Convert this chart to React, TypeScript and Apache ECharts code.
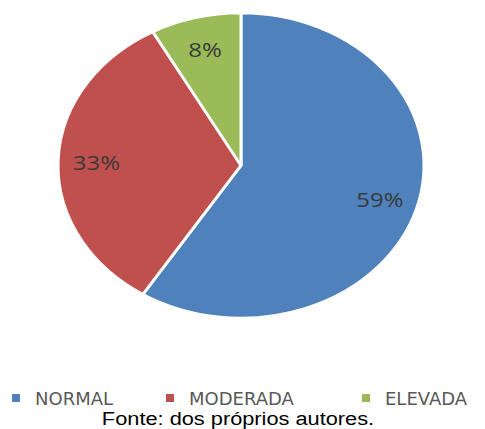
import React, { useEffect, useRef } from "react";
import * as echarts from "echarts";

const categories = ["NORMAL", "MODERADA", "ELEVADA"];
const values = [59, 33, 8];
const colors = ["#4F81BD", "#C0504D", "#9BBB59"];
const sourceNote = "Fonte: dos próprios autores.";

export default function App() {
  const ref = useRef<HTMLDivElement>(null);

  useEffect(() => {
    if (!ref.current) return;
    const chart = echarts.init(ref.current, null, { renderer: "svg" });
    const total = values.reduce((a, b) => a + b, 0);
    const cx = 241;
    const cy = 165.5;
    const ry = 152.5;
    const sx = 183 / 152.5;
    const legendLefts = [12, 166, 362];

    const series = categories.map((name, i) => ({
      type: "custom",
      name,
      coordinateSystem: "none",
      itemStyle: { color: colors[i] },
      data: [values[i]],
      renderItem: (_params: any, api: any) => {
        const v = api.value(0) as number;
        const before = values.slice(0, i).reduce((a, b) => a + b, 0);
        const start = -Math.PI / 2 + (before / total) * 2 * Math.PI;
        const end = start + (v / total) * 2 * Math.PI;
        const mid = (start + end) / 2;
        const lr = ry * 0.79;
        return {
          type: "group",
          x: cx,
          y: cy,
          scaleX: sx,
          children: [
            {
              type: "sector",
              shape: { cx: 0, cy: 0, r: ry, r0: 0, startAngle: start, endAngle: end, clockwise: true },
              style: { fill: colors[i], stroke: "#ffffff", lineWidth: 2.5 },
            },
            {
              type: "text",
              x: Math.cos(mid) * lr,
              y: Math.sin(mid) * lr,
              style: {
                text: Math.round((v / total) * 100) + "%",
                fill: "#3a3a3a",
                fontSize: 20,
                fontFamily: "Open Sans",
                align: "center",
                verticalAlign: "middle",
              },
            },
          ],
        };
      },
    }));

    chart.setOption({
      animation: false,
      backgroundColor: "#ffffff",
      legend: categories.map((name, i) => ({
        data: [name],
        left: legendLefts[i],
        top: 389,
        padding: 0,
        icon: "rect",
        itemWidth: 8,
        itemHeight: 8,
        selectedMode: false,
        textStyle: {
          color: "#595959",
          fontSize: 18,
          lineHeight: 18,
          fontFamily: "DejaVu Sans",
          padding: [0, 0, 0, 10],
        },
      })),
      graphic: [
        {
          type: "text",
          x: 238,
          y: 418.5,
          scaleX: 1.21,
          style: {
            text: sourceNote,
            fill: "#000000",
            fontSize: 18,
            fontFamily: "Liberation Sans",
            align: "center",
            verticalAlign: "middle",
            textAlign: "center",
            textVerticalAlign: "middle",
          },
        },
      ],
      series,
    } as any);

    return () => chart.dispose();
  }, []);

  return (
    <div
      ref={ref}
      style={{ position: "fixed", left: 0, top: 0, width: 485, height: 429 }}
    />
  );
}
